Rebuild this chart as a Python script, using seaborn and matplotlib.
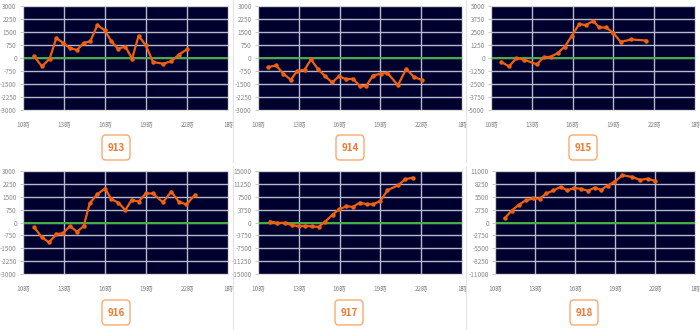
import matplotlib
matplotlib.use("Agg")
import matplotlib.pyplot as plt
from matplotlib.patches import FancyBboxPatch
from matplotlib.lines import Line2D
import seaborn as sns
import pandas as pd

plt.rcParams['font.family'] = ['Noto Sans CJK JP', 'DejaVu Sans']

# ---- data ----
labels = ["913", "914", "915", "916", "917", "918"]

t913 = [10.80, 11.39, 11.95, 12.44, 12.93, 13.41, 13.95, 14.44, 14.93, 15.44, 15.98,
        16.46, 16.95, 17.49, 17.98, 18.46, 18.98, 19.51, 20.24, 20.85, 21.39, 22.0]
v913 = [100, -480, -40, 1160, 870, 580, 460, 870, 970, 1900, 1600,
        970, 540, 660, -40, 1280, 740, -230, -330, -190, 190, 500]

t914 = [10.76, 11.33, 11.87, 12.41, 12.87, 13.42, 13.90, 14.42, 14.91, 15.45, 15.95,
        16.49, 16.98, 17.52, 17.96, 18.45, 19.02, 19.50, 20.29, 20.90, 21.47, 22.03]
v914 = [-520, -430, -910, -1260, -750, -680, -80, -660, -1030, -1410, -1060,
        -1220, -1200, -1630, -1610, -1010, -910, -850, -1570, -620, -1100, -1260]

t915 = [10.76, 11.33, 11.87, 12.43, 13.36, 13.88, 14.40, 14.91, 15.43, 15.95,
        16.49, 16.98, 17.50, 17.97, 18.46, 18.98, 19.54, 20.30, 21.43]
v915 = [-390, -810, 0, -160, -610, 60, 130, 480, 1100, 2160,
        3260, 3170, 3550, 2940, 2940, 2420, 1550, 1780, 1680]

t916 = [10.83, 11.37, 11.90, 12.44, 12.93, 13.44, 13.95, 14.44, 14.88, 15.44, 16.00,
        16.46, 16.98, 17.49, 17.95, 18.46, 18.98, 19.49, 20.24, 20.85, 21.39, 21.95, 22.56]
v916 = [-290, -850, -1160, -680, -620, -210, -540, -210, 1120, 1650, 1980,
        1360, 1160, 720, 1320, 1220, 1690, 1690, 1180, 1800, 1220, 1050, 1590]

t917 = [10.88, 11.42, 11.99, 12.48, 12.99, 13.48, 13.97, 14.46, 14.95, 15.49, 15.98,
        16.50, 16.99, 17.48, 17.99, 18.46, 19.00, 19.52, 20.30, 20.82, 21.38]
v917 = [290, -100, -100, -770, -1060, -970, -1160, -1260, 290, 2320, 3870,
        4740, 4550, 5810, 5320, 5320, 6290, 9390, 10840, 12580, 13070]

t918 = [10.73, 11.25, 11.80, 12.30, 12.88, 13.35, 13.85, 14.38, 14.93, 15.43, 15.93,
        16.45, 16.98, 17.48, 17.95, 18.45, 18.95, 19.55, 20.30, 20.90, 21.45, 22.00]
v918 = [920, 2540, 3810, 4720, 5150, 5080, 6200, 6840, 7620, 6840, 7400,
        7190, 6770, 7470, 6980, 7900, 8670, 10080, 9730, 9090, 9370, 8880]

y_limits = [3000, 3000, 5000, 3000, 15000, 11000]
x_ticks = [10, 13, 16, 19, 22, 25]
x_tick_labels = ["10時", "13時", "16時", "19時", "22時", "1時"]

times = [t913, t914, t915, t916, t917, t918]
values = [v913, v914, v915, v916, v917, v918]

# ---- layout (pixels) ----
W, H = 700, 330
fig = plt.figure(figsize=(7, 3.3), dpi=100)
fig.patch.set_facecolor("white")

boxes = [(23, 6, 228, 110), (258, 6, 462, 110), (491, 6, 695, 110),
         (23, 171, 228, 274), (258, 171, 462, 274), (495, 171, 695, 274)]
label_centers = [(116, 147.5), (350, 147.5), (583, 147.5),
                 (116, 312.5), (349, 312.5), (584, 312.5)]

navy = "#00002e"
grid_c = "#b8b8cc"
line_c = "#f06010"
tick_c = "#888888"

for i in range(6):
    l, t, r, b = boxes[i]
    ax = fig.add_axes([l / W, (H - b) / H, (r - l) / W, (b - t) / H])
    ax.set_facecolor(navy)
    lim = y_limits[i]
    yt = [lim * k / 4 for k in range(-4, 5)]
    ax.set_ylim(-lim, lim)
    ax.set_xlim(10, 25)
    ax.set_yticks(yt)
    ax.set_yticklabels([str(int(v)) for v in yt])
    ax.set_xticks(x_ticks)
    ax.set_xticklabels(x_tick_labels)
    for v in yt:
        ax.axhline(v, color=grid_c, lw=1.0, zorder=1)
    for v in x_ticks:
        ax.axvline(v, color=grid_c, lw=1.0, zorder=1)
    ax.axhline(0, color="#44b040", lw=1.4, zorder=2)
    df = pd.DataFrame({"t": times[i], "v": values[i]})
    sns.lineplot(data=df, x="t", y="v", ax=ax, color=line_c, lw=1.6,
                 marker="o", markersize=3.2, markeredgewidth=0, zorder=3)
    ax.set_xlabel("")
    ax.set_ylabel("")
    ax.tick_params(axis="y", length=2.5, width=0.6, color="#bbbbbb",
                   labelsize=4.6, labelcolor=tick_c, pad=2)
    ax.tick_params(axis="x", length=0, labelsize=4.6, labelcolor=tick_c, pad=8)
    for s in ax.spines.values():
        s.set_color("#d8d8d8")
        s.set_linewidth(0.6)

    cx, cy = label_centers[i]
    bw, bh = 28, 25
    patch = FancyBboxPatch(((cx - bw / 2) / 100, (H - cy - bh / 2) / 100),
                           bw / 100, bh / 100,
                           boxstyle="round,pad=0,rounding_size=0.04",
                           transform=fig.dpi_scale_trans,
                           fc="white", ec="#f8aa70", lw=1.0)
    fig.patches.append(patch)
    fig.text(cx / W, (H - cy) / H, labels[i], ha="center", va="center",
             fontsize=7, color="#f07830", fontweight="bold")

# separators
for x in (233, 466):
    fig.add_artist(Line2D([x / W, x / W], [(H - 0) / H, (H - 162) / H],
                          color="#e2e2e2", lw=0.8))
    fig.add_artist(Line2D([x / W, x / W], [(H - 166) / H, 0],
                          color="#e2e2e2", lw=0.8))

fig.savefig("out.png", dpi=100, facecolor="white")
